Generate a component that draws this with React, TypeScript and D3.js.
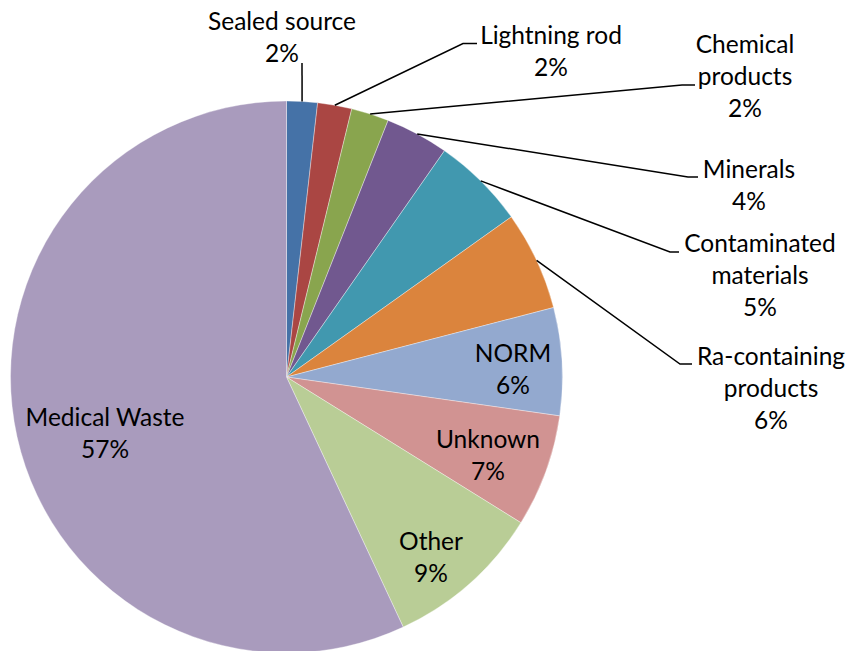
import React from "react";
import * as d3 from "d3";

const categories = [
  "Sealed source",
  "Lightning rod",
  "Chemical products",
  "Minerals",
  "Contaminated materials",
  "Ra-containing products",
  "NORM",
  "Unknown",
  "Other",
  "Medical Waste",
];
const values = [1.8, 2.0, 2.2, 3.7, 5.45, 5.8, 6.3, 6.6, 9.2, 56.95];
const colors = [
  "#4572A7",
  "#AA4643",
  "#89A54E",
  "#71588F",
  "#4198AF",
  "#DB843D",
  "#93A9CF",
  "#D19392",
  "#B9CD96",
  "#A99BBD",
];
// label line breaks
const labelLines = [
  ["Sealed source"],
  ["Lightning rod"],
  ["Chemical", "products"],
  ["Minerals"],
  ["Contaminated", "materials"],
  ["Ra-containing", "products"],
  ["NORM"],
  ["Unknown"],
  ["Other"],
  ["Medical Waste"],
];

// layout: text center x, first baseline y, optional leader elbow / end
type Lay = { x: number; y: number; elbow?: [number, number]; end?: [number, number] };
const layout: Lay[] = [
  { x: 282, y: 30, elbow: [302, 63] },
  { x: 551, y: 44, elbow: [463, 43.5], end: [477, 43.5] },
  { x: 745, y: 53, elbow: [682, 85], end: [695, 85] },
  { x: 749, y: 178, elbow: [688, 177], end: [698, 177] },
  { x: 760, y: 252, elbow: [670, 252], end: [679, 252] },
  { x: 771, y: 365, elbow: [680, 364], end: [692, 364] },
  { x: 513, y: 362 },
  { x: 488, y: 448 },
  { x: 431, y: 550 },
  { x: 105, y: 426 },
];

const W = 850;
const H = 651;
const cx = 286.5;
const cy = 377;
const R = 276;
const LH = 32;
const FONT = "Lato, 'Open Sans', sans-serif";
const FS = 24.5;

export default function App() {
  const data = categories.map((c, i) => ({ c, v: values[i], i }));
  const total = d3.sum(values);
  const pie = d3.pie<any>().value((d) => d.v).sort(null);
  const arcs = pie(data);
  const arc = d3.arc<any>().innerRadius(0).outerRadius(R);

  return (
    <svg
      width={W}
      height={H}
      style={{ position: "absolute", left: 0, top: 0, background: "#fff" }}
    >
      <g transform={`translate(${cx},${cy})`}>
        {arcs.map((a, i) => (
          <path
            key={i}
            d={arc(a) as string}
            fill={colors[i]}
            stroke="#ffffff"
            strokeWidth={0.6}
            strokeOpacity={0.6}
          />
        ))}
      </g>
      {arcs.map((a, i) => {
        const L = layout[i];
        if (!L.elbow) return null;
        const mid = (a.startAngle + a.endAngle) / 2;
        const sx = cx + R * Math.sin(mid);
        const sy = cy - R * Math.cos(mid);
        const pts: [number, number][] = [[sx, sy], L.elbow];
        if (L.end) pts.push(L.end);
        return (
          <path
            key={"l" + i}
            d={d3.line()(pts) as string}
            fill="none"
            stroke="#000"
            strokeWidth={1.5}
          />
        );
      })}
      {arcs.map((a, i) => {
        const L = layout[i];
        const pct = Math.round((values[i] / total) * 100) + "%";
        const lines = [...labelLines[i], pct];
        return (
          <text
            key={"t" + i}
            x={L.x}
            y={L.y}
            textAnchor="middle"
            fontFamily={FONT}
            fontSize={FS}
            fill="#000"
          >
            {lines.map((s, k) => (
              <tspan key={k} x={L.x} y={L.y + k * LH}>
                {s}
              </tspan>
            ))}
          </text>
        );
      })}
    </svg>
  );
}
